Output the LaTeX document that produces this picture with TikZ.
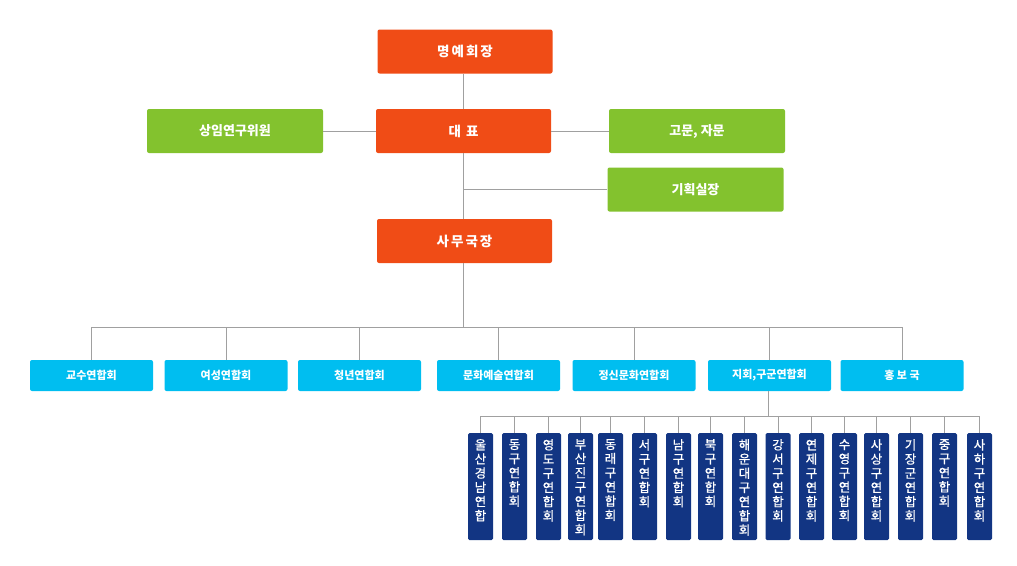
\documentclass[tikz,border=0pt]{standalone}
\usepackage{fontspec}
\setmainfont{Noto Sans CJK KR}
\newfontfamily\wide[LetterSpace=15]{Noto Sans CJK KR}
\newfontfamily\semi[FakeBold=0.7]{Noto Sans CJK KR}
\usepackage{tikz}
\usetikzlibrary{positioning}
\usetikzlibrary{calc}
\definecolor{boss}{HTML}{F04C16}
\definecolor{leaf}{HTML}{83C22E}
\definecolor{sky}{HTML}{00BEF0}
\definecolor{navy}{HTML}{123583}
\definecolor{wire}{HTML}{A0A0A0}
\tikzstyle{head} = [fill=boss,text=white,rounded corners=2pt,minimum width=175pt,minimum height=44pt,font=\wide\bfseries\fontsize{13.5}{14}\selectfont,inner sep=0pt]
\tikzstyle{aide} = [fill=leaf,text=white,rounded corners=2pt,minimum width=176pt,minimum height=44pt,font=\bfseries\fontsize{13}{14}\selectfont,inner sep=0pt]
\tikzstyle{unit} = [fill=sky,text=white,rounded corners=2pt,minimum width=123pt,minimum height=31pt,font=\bfseries\fontsize{11}{12}\selectfont,inner sep=0pt]
\tikzstyle{club} = [fill=navy,text=white,rounded corners=1.5pt,anchor=north,minimum width=25pt,minimum height=107pt,font=\semi\fontsize{12.5}{14.2}\selectfont,inner sep=0pt]
\newcommand{\vtxt}[1]{\parbox[c][95pt][t]{20pt}{\centering #1}}

\begin{document}
\begin{tikzpicture}
	[x=1pt,y=-1pt]
	\tikzstyle{link}=[draw=wire,line width=0.9pt];
	\useasboundingbox (0,0) rectangle (1017,565);
	% top
	\node (1) [head] at (465,51.5) {명예회장};
	\node (2) [head] at (463.5,131) {대 표};
	\node (3) [aide] at (235,131) {상임연구위원};
	\node (4) [aide] at (697,131) {고문, 자문};
	\node (5) [aide] at (695.5,189.5) {기획실장};
	\node (6) [head] at (464.5,241) {사무국장};
	\coordinate (bus1) at (463,327);
	\path[link]
		(bus1 |- 1.south) -- (bus1 |- 2.north)
		(3) -- (2) -- (4)
		(bus1 |- 2.south) -- (bus1 |- 6.north)
		(5.west) -- (bus1 |- 5.west);
	% units
	\node (c1) [unit] at (91.5,375.5) {교수연합회};
	\node (c2) [unit] at (226,375.5) {여성연합회};
	\node (c3) [unit] at (359.5,375.5) {청년연합회};
	\node (c4) [unit] at (498.5,375.5) {문화예술연합회};
	\node (c5) [unit] at (634,375.5) {정신문화연합회};
	\node (c6) [unit] at (769.5,375.5) {지회,구군연합회};
	\node (c7) [unit] at (902,375.5) {홍 보 국};
	\path[link] (bus1 |- 6.south) -- (bus1);
	\foreach \c in {c1,c2,c3,c4,c5,c6,c7}
		\path[link] (bus1) -| (\c.north);
	% local clubs
	\coordinate (bus2) at (768,416);
	\node (b1) [club] at (480.5,433) {\vtxt{울\\산\\경\\남\\연\\합}};
	\node (b2) [club] at (514.5,433) {\vtxt{동\\구\\연\\합\\회}};
	\node (b3) [club] at (548.5,433) {\vtxt{영\\도\\구\\연\\합\\회}};
	\node (b4) [club] at (580.5,433) {\vtxt{부\\산\\진\\구\\연\\합\\회}};
	\node (b5) [club] at (610.5,433) {\vtxt{동\\래\\구\\연\\합\\회}};
	\node (b6) [club] at (644.5,433) {\vtxt{서\\구\\연\\합\\회}};
	\node (b7) [club] at (678.5,433) {\vtxt{남\\구\\연\\합\\회}};
	\node (b8) [club] at (710.5,433) {\vtxt{북\\구\\연\\합\\회}};
	\node (b9) [club] at (744.5,433) {\vtxt{해\\운\\대\\구\\연\\합\\회}};
	\node (b10) [club] at (778,433) {\vtxt{강\\서\\구\\연\\합\\회}};
	\node (b11) [club] at (811.5,433) {\vtxt{연\\제\\구\\연\\합\\회}};
	\node (b12) [club] at (844.5,433) {\vtxt{수\\영\\구\\연\\합\\회}};
	\node (b13) [club] at (876.5,433) {\vtxt{사\\상\\구\\연\\합\\회}};
	\node (b14) [club] at (910.5,433) {\vtxt{기\\장\\군\\연\\합\\회}};
	\node (b15) [club] at (944.5,433) {\vtxt{중\\구\\연\\합\\회}};
	\node (b16) [club] at (979.5,433) {\vtxt{사\\하\\구\\연\\합\\회}};
	\path[link] (bus2 |- c6.south) -- (bus2);
	\foreach \b in {b1,b2,b3,b4,b5,b6,b7,b8,b9,b10,b11,b12,b13,b14,b15,b16}
		\path[link] (bus2) -| (\b.north);
\end{tikzpicture}
\end{document}
